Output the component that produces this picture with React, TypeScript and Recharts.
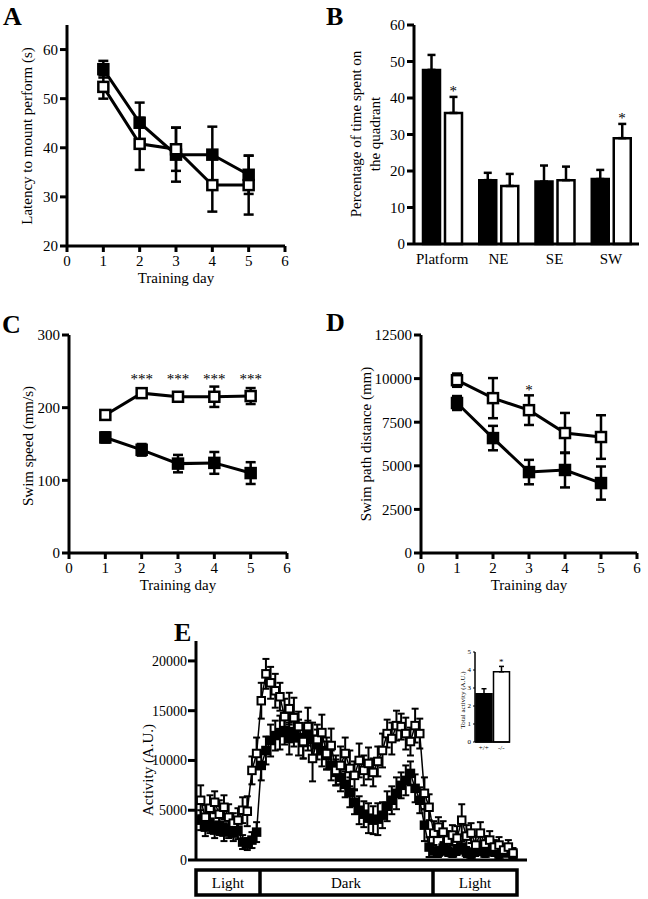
import React from "react";
import {
  ComposedChart,
  Line,
  Bar,
  Cell,
  XAxis,
  YAxis,
  ErrorBar,
  ReferenceDot,
} from "recharts";

const FONT = "'Liberation Serif', 'Times New Roman', serif";

// A: latency to mount the platform
const days = [1, 2, 3, 4, 5];
const dayTicks = [0, 1, 2, 3, 4, 5, 6];
const latencyWt = [56, 45.1, 38.6, 38.6, 34.5];
const latencyWtErr = [1.7, 4.1, 5.5, 5.7, 3.9];
const latencyKo = [52.4, 40.8, 39.7, 32.4, 32.4];
const latencyKoErr = [2.4, 5.3, 4.4, 5.4, 6];
const latencySig = ["", "", "", "", ""];

// B: time spent per quadrant
const quadrants = ["Platform", "NE", "SE", "SW"];
const quadWt = [47.7, 17.5, 17.1, 17.8];
const quadWtErr = [4.1, 2, 4.4, 2.5];
const quadKo = [35.9, 15.9, 17.5, 29];
const quadKoErr = [4.4, 3.3, 3.7, 3.9];
const quadSig = ["*", "", "", "*"];

// C: swim speed
const speedWt = [159, 142, 123, 124, 110];
const speedWtErr = [7, 8, 12, 15, 15];
const speedKo = [190, 220, 215, 215, 216];
const speedKoErr = [3, 6, 4, 14, 11];
const speedSig = ["", "***", "***", "***", "***"];

// D: swim path distance
const pathWt = [8600, 6590, 4640, 4760, 4010];
const pathWtErr = [400, 700, 700, 1000, 950];
const pathKo = [9910, 8880, 8190, 6880, 6650];
const pathKoErr = [380, 1150, 850, 1150, 1250];
const pathSig = ["", "", "*", "", ""];

// E: home cage activity (20 min bins)
const activityKo = [
  6000, 4300, 5200, 5800, 4600, 5300, 4300, 3700, 4000, 5000, 4900,
  9000, 10700, 16000, 18700, 17800, 17000, 16400, 14400, 15200, 14300,
  13400, 11900, 13400, 10200, 12100, 12800, 10700, 11500, 9000, 9500,
  10700, 9200, 8500, 10000, 9000, 9700, 8800, 9900, 11000, 12700,
  12200, 13500, 13400, 12700, 11900, 13500, 12700, 6700, 5300, 2700,
  3300, 2800, 2000, 2500, 2200, 4000, 2400, 2700, 1500, 2700,
  1600, 2000, 1300, 1500, 1000, 1300, 700,
];
const activityKoErr = [
  1500, 1200, 1300, 1100, 1400, 1200, 1300, 1000, 1200, 1300, 1500,
  1400, 1600, 1800, 1500, 1600, 1700, 1400, 1800, 1600, 2000,
  1500, 1700, 1900, 2300, 1500, 1800, 1600, 1700, 1500, 1900,
  1600, 1800, 1400, 1700, 1500, 1600, 1400, 1500, 1700, 1400,
  1600, 1500, 1300, 1600, 1400, 1700, 1500, 1600, 1300, 1200,
  1000, 1100, 900, 1000, 1200, 1600, 1100, 1000, 900, 1100,
  800, 900, 700, 800, 600, 700, 500,
];
const activityWt = [
  4000, 3300, 3800, 3000, 3500, 2800, 3200, 2700, 3000, 1800, 1600,
  2000, 2800, 9500, 11000, 12000, 12500, 12800, 13000, 12200, 12900,
  12300, 11800, 12500, 12100, 11600, 11000, 10500, 9500, 8800, 8300,
  7600, 6800, 5800, 5000, 4600, 4200, 4000, 4100, 4500, 5400,
  6000, 6700, 7500, 8000, 8700, 7200, 6000, 3500, 1300, 900,
  800, 1200, 900, 700, 1000, 1300, 800, 600, 900, 1100,
  700, 1000, 800, 600, 900, 700, 500,
];
const activityWtErr = [
  1000, 900, 1100, 800, 1000, 900, 1000, 800, 900, 700, 600,
  800, 1000, 1500, 1400, 1600, 1500, 1700, 1400, 1600, 1500,
  1800, 1600, 1500, 1700, 1500, 1600, 1400, 1500, 1300, 1400,
  1300, 1500, 1200, 1400, 1300, 1500, 1400, 1600, 1300, 1500,
  1400, 1600, 1300, 1500, 1200, 1400, 1300, 1600, 1000, 600,
  500, 600, 500, 400, 500, 600, 500, 400, 500, 600,
  400, 500, 400, 500, 400, 300, 300,
];

// E inset: total activity
const genotypes = ["+/+", "-/-"];
const totalActivity = [2.68, 3.9];
const totalErr = [0.28, 0.3];
const totalSig = ["", "*"];

const axisLine = { stroke: "#000", strokeWidth: 3 };
const tickLine = { stroke: "#000", strokeWidth: 3 };
const tick = (size: number) => ({ fill: "#000", fontSize: size, fontFamily: FONT });

function squareDot(filled: boolean, size: number, sw: number) {
  return (p: any) => {
    if (p.cx == null || p.cy == null) return <g key={`n-${p.index}`} />;
    return (
      <rect
        key={`${filled ? "f" : "o"}-${p.index}`}
        x={p.cx - size / 2}
        y={p.cy - size / 2}
        width={size}
        height={size}
        fill={filled ? "#000" : "#fff"}
        stroke="#000"
        strokeWidth={sw}
      />
    );
  };
}

function star(label: string, size: number, dx = 0) {
  return (p: any) => (
    <text
      x={p.cx + dx}
      y={p.cy + size * 0.5}
      textAnchor="middle"
      fontFamily={FONT}
      fontSize={size}
      fill="#000"
      stroke="none"
    >
      {label}
    </text>
  );
}

interface DayPanelProps {
  left: number;
  top: number;
  width: number;
  height: number;
  margin: any;
  yWidth: number;
  domain: number[];
  ticks: number[];
  wt: number[];
  wtErr: number[];
  ko: number[];
  koErr: number[];
  sig: string[];
  sigY: (i: number) => number;
}

function DayPanel(props: DayPanelProps) {
  const data = days.map((d, i) => ({
    day: d,
    wt: props.wt[i],
    wtErr: props.wtErr[i],
    ko: props.ko[i],
    koErr: props.koErr[i],
  }));
  return (
    <div style={{ position: "absolute", left: props.left, top: props.top }}>
      <ComposedChart width={props.width} height={props.height} data={data} margin={props.margin}>
        <XAxis
          type="number"
          dataKey="day"
          domain={[0, 6]}
          ticks={dayTicks}
          axisLine={axisLine}
          tickLine={tickLine}
          tickSize={6}
          tickMargin={3}
          tick={tick(15)}
          height={30}
        />
        <YAxis
          type="number"
          domain={props.domain}
          ticks={props.ticks}
          axisLine={axisLine}
          tickLine={tickLine}
          tickSize={7}
          tickMargin={2}
          tick={tick(15)}
          width={props.yWidth}
          allowDataOverflow
        />
        <Line dataKey="wt" stroke="#000" strokeWidth={3} dot={squareDot(true, 10, 2.5)} activeDot={false} isAnimationActive={false}>
          <ErrorBar dataKey="wtErr" direction="y" width={5} stroke="#000" strokeWidth={2.5} />
        </Line>
        <Line dataKey="ko" stroke="#000" strokeWidth={3} dot={squareDot(false, 10, 2.5)} activeDot={false} isAnimationActive={false}>
          <ErrorBar dataKey="koErr" direction="y" width={5} stroke="#000" strokeWidth={2.5} />
        </Line>
        {props.sig.map((s, i) =>
          s ? (
            <ReferenceDot key={`s-${i}`} x={days[i]} y={props.sigY(i)} r={0} shape={star(s, 15)} />
          ) : null
        )}
      </ComposedChart>
    </div>
  );
}

function QuadrantPanel() {
  const data = quadrants.map((q, i) => ({
    q,
    wt: quadWt[i],
    wtErr: [0, quadWtErr[i]],
    ko: quadKo[i],
    koErr: [0, quadKoErr[i]],
  }));
  const barSize = 17;
  const barGap = 5;
  return (
    <div style={{ position: "absolute", left: 330, top: 0 }}>
      <ComposedChart
        width={318}
        height={300}
        data={data}
        margin={{ top: 25, right: 9, bottom: 26, left: 50 }}
        barSize={barSize}
        barGap={barGap}
      >
        <XAxis
          dataKey="q"
          axisLine={axisLine}
          tickLine={false}
          tickSize={0}
          tickMargin={9}
          tick={tick(15)}
          height={30}
        />
        <YAxis
          type="number"
          domain={[0, 60]}
          ticks={[0, 10, 20, 30, 40, 50, 60]}
          axisLine={axisLine}
          tickLine={tickLine}
          tickSize={7}
          tickMargin={2}
          tick={tick(15)}
          width={34}
        />
        <Bar dataKey="wt" fill="#000" stroke="#000" strokeWidth={2.5} isAnimationActive={false}>
          <ErrorBar dataKey="wtErr" direction="y" width={4} stroke="#000" strokeWidth={2.5} />
        </Bar>
        <Bar dataKey="ko" fill="#fff" stroke="#000" strokeWidth={2.5} isAnimationActive={false}>
          <ErrorBar dataKey="koErr" direction="y" width={4} stroke="#000" strokeWidth={2.5} />
        </Bar>
        {quadSig.map((s, i) =>
          s ? (
            <ReferenceDot
              key={`qs-${i}`}
              x={quadrants[i]}
              y={quadKo[i] + quadKoErr[i] + 2.4}
              r={0}
              shape={star(s, 15, (barSize + barGap) / 2)}
            />
          ) : null
        )}
      </ComposedChart>
    </div>
  );
}

function ActivityPanel() {
  const data = activityKo.map((v, i) => ({
    bin: i,
    wt: activityWt[i],
    wtErr: activityWtErr[i],
    ko: v,
    koErr: activityKoErr[i],
  }));
  return (
    <div style={{ position: "absolute", left: 100, top: 620 }}>
      <ComposedChart width={448} height={260} data={data} margin={{ top: 21, right: 21, bottom: 16, left: 46 }}>
        <XAxis
          type="number"
          dataKey="bin"
          domain={[-1, 70]}
          axisLine={axisLine}
          tickLine={false}
          tick={false}
          height={4}
        />
        <YAxis
          type="number"
          domain={[0, 22000]}
          ticks={[0, 5000, 10000, 15000, 20000]}
          axisLine={axisLine}
          tickLine={tickLine}
          tickSize={8}
          tickMargin={1}
          tick={tick(14)}
          width={50}
          allowDataOverflow
        />
        <Line dataKey="wt" stroke="#000" strokeWidth={1.5} dot={squareDot(true, 7.5, 2)} activeDot={false} isAnimationActive={false}>
          <ErrorBar dataKey="wtErr" direction="y" width={3.5} stroke="#000" strokeWidth={2} />
        </Line>
        <Line dataKey="ko" stroke="#000" strokeWidth={1.5} dot={squareDot(false, 7.5, 2)} activeDot={false} isAnimationActive={false}>
          <ErrorBar dataKey="koErr" direction="y" width={3.5} stroke="#000" strokeWidth={2} />
        </Line>
      </ComposedChart>
    </div>
  );
}

function TotalInset() {
  const data = genotypes.map((g, i) => ({ g, v: totalActivity[i], err: [0, totalErr[i]] }));
  return (
    <div style={{ position: "absolute", left: 440, top: 640 }}>
      <ComposedChart width={80} height={120} data={data} margin={{ top: 12, right: 10, bottom: 2, left: 15 }} barCategoryGap={1}>
        <XAxis
          dataKey="g"
          axisLine={{ stroke: "#000", strokeWidth: 1.5 }}
          tickLine={false}
          tickSize={0}
          tickMargin={3}
          tick={tick(7)}
          height={16}
        />
        <YAxis
          type="number"
          domain={[0, 5]}
          ticks={[0, 1, 2, 3, 4, 5]}
          axisLine={{ stroke: "#000", strokeWidth: 1.5 }}
          tickLine={{ stroke: "#000", strokeWidth: 1 }}
          tickSize={2}
          tickMargin={2}
          tick={tick(7)}
          width={20}
        />
        <Bar dataKey="v" stroke="#000" strokeWidth={1.5} isAnimationActive={false}>
          {data.map((d, i) => (
            <Cell key={`c-${i}`} fill={i === 0 ? "#000" : "#fff"} />
          ))}
          <ErrorBar dataKey="err" direction="y" width={2.5} stroke="#000" strokeWidth={1.5} />
        </Bar>
        {totalSig.map((s, i) =>
          s ? (
            <ReferenceDot key={`ts-${i}`} x={genotypes[i]} y={totalActivity[i] + totalErr[i] + 0.35} r={0} shape={star(s, 9)} />
          ) : null
        )}
      </ComposedChart>
    </div>
  );
}

function Titles() {
  const rot = (x: number, y: number) => `translate(${x},${y}) rotate(-90)`;
  return (
    <svg width={648} height={899} style={{ position: "absolute", left: 0, top: 0, pointerEvents: "none" }}>
      <g fontFamily={FONT} fill="#000">
        <text x={3} y={25} fontSize={26} fontWeight="bold">A</text>
        <text x={326} y={25} fontSize={26} fontWeight="bold">B</text>
        <text x={2} y={333} fontSize={26} fontWeight="bold">C</text>
        <text x={326} y={331} fontSize={26} fontWeight="bold">D</text>
        <text x={174} y={641} fontSize={26} fontWeight="bold">E</text>

        <text x={176} y={283} fontSize={15} textAnchor="middle">Training day</text>
        <text x={178} y={590} fontSize={15} textAnchor="middle">Training day</text>
        <text x={529} y={590} fontSize={15} textAnchor="middle">Training day</text>

        <text transform={rot(32, 136)} fontSize={15} textAnchor="middle">Latency to mount perform (s)</text>
        <text transform={rot(361, 134)} fontSize={15} textAnchor="middle">Percentage of time spent on</text>
        <text transform={rot(380, 134)} fontSize={15} textAnchor="middle">the quadrant</text>
        <text transform={rot(33, 446)} fontSize={15} textAnchor="middle">Swim speed (mm/s)</text>
        <text transform={rot(371, 444)} fontSize={15} textAnchor="middle">Swim path distance (mm)</text>
        <text transform={rot(153, 770)} fontSize={15} textAnchor="middle">Activity (A.U.)</text>
        <text transform={rot(465, 700)} fontSize={7} textAnchor="middle">Total activity (A.U.)</text>

        <rect x={196} y={870} width={321} height={25} fill="none" stroke="#000" strokeWidth={3.5} />
        <line x1={260} y1={870} x2={260} y2={895} stroke="#000" strokeWidth={3.5} />
        <line x1={433} y1={870} x2={433} y2={895} stroke="#000" strokeWidth={3.5} />
        <text x={228} y={888} fontSize={15} textAnchor="middle">Light</text>
        <text x={346} y={888} fontSize={15} textAnchor="middle">Dark</text>
        <text x={475} y={888} fontSize={15} textAnchor="middle">Light</text>
      </g>
    </svg>
  );
}

export default function App() {
  return (
    <div style={{ position: "absolute", left: 0, top: 0, width: 648, height: 899, background: "#fff", fontFamily: FONT }}>
      <DayPanel
        left={0}
        top={0}
        width={300}
        height={300}
        margin={{ top: 25, right: 15, bottom: 24, left: 22 }}
        yWidth={45}
        domain={[20, 65]}
        ticks={[20, 30, 40, 50, 60]}
        wt={latencyWt}
        wtErr={latencyWtErr}
        ko={latencyKo}
        koErr={latencyKoErr}
        sig={latencySig}
        sigY={() => 0}
      />
      <QuadrantPanel />
      <DayPanel
        left={0}
        top={290}
        width={300}
        height={300}
        margin={{ top: 45, right: 13, bottom: 7, left: 24 }}
        yWidth={45}
        domain={[0, 300]}
        ticks={[0, 100, 200, 300]}
        wt={speedWt}
        wtErr={speedWtErr}
        ko={speedKo}
        koErr={speedKoErr}
        sig={speedSig}
        sigY={() => 243}
      />
      <DayPanel
        left={330}
        top={290}
        width={318}
        height={300}
        margin={{ top: 45, right: 11, bottom: 7, left: 41 }}
        yWidth={50}
        domain={[0, 12500]}
        ticks={[0, 2500, 5000, 7500, 10000, 12500]}
        wt={pathWt}
        wtErr={pathWtErr}
        ko={pathKo}
        koErr={pathKoErr}
        sig={pathSig}
        sigY={(i) => pathKo[i] + pathKoErr[i] + 460}
      />
      <ActivityPanel />
      <TotalInset />
      <Titles />
    </div>
  );
}
